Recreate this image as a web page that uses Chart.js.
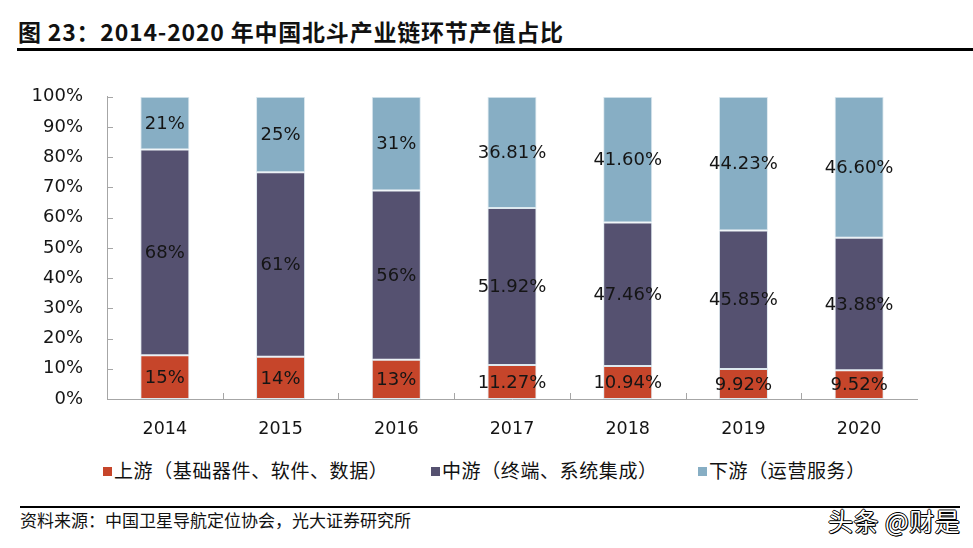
<!DOCTYPE html>
<html>
<head>
<meta charset="utf-8">
<script src="https://cdn.jsdelivr.net/npm/chart.js@4/dist/chart.umd.min.js"></script>
<style>
  body { margin: 0; background: #fff; width: 973px; height: 548px; position: relative; overflow: hidden; font-family: "Noto Sans CJK SC", sans-serif; }
  #title { position: absolute; left: 18px; top: 12px; font-size: 23px; font-weight: bold; line-height: 38px; color: #111; letter-spacing: 0.8px; }
  #titleLine { position: absolute; left: 17px; top: 48px; width: 956px; height: 3px; background: #000; }
  #chartBox { position: absolute; left: 0; top: 70px; width: 973px; height: 369px; }
  .leg { position: absolute; top: 458px; font-size: 19px; line-height: 24px; color: #111; letter-spacing: 0.6px; white-space: nowrap; }
  .leg i { display: inline-block; width: 9px; height: 9px; margin-right: 2px; vertical-align: 2px; }
  #footLine { position: absolute; left: 20px; top: 506px; width: 940px; height: 2px; background: #000; }
  #source { position: absolute; left: 20px; top: 508px; font-size: 17px; line-height: 24px; color: #111; }
  #mark { position: absolute; left: 828px; top: 505px; font-size: 25px; line-height: 30px; color: #fff; letter-spacing: 0.5px;
          text-shadow: 1px 1px 0 #000, -1px 0 0 #000, 0 -1px 0 #000, 1px 0 0 #000, 0 1px 0 #000; }
</style>
</head>
<body>
<div id="title">图 23：2014-2020 年中国北斗产业链环节产值占比</div>
<div id="titleLine"></div>
<div id="chartBox"><canvas id="chart"></canvas></div>
<div class="leg" style="left:103px"><i style="background:#c6452a"></i>上游（基础器件、软件、数据）</div>
<div class="leg" style="left:431px"><i style="background:#555170"></i>中游（终端、系统集成）</div>
<div class="leg" style="left:698px"><i style="background:#87aec4"></i>下游（运营服务）</div>
<div id="footLine"></div>
<div id="source">资料来源：中国卫星导航定位协会，光大证券研究所</div>
<div id="mark">头条 @财是</div>
<script>
const years = ['2014', '2015', '2016', '2017', '2018', '2019', '2020'];
// bar heights as drawn (percent of the column)
const upstream = [14.5, 14, 13, 11.27, 10.94, 9.92, 9.52];
const midstream = [68.1, 61, 56, 51.92, 47.46, 45.85, 43.88];
const downstream = [17.4, 25, 31, 36.81, 41.60, 44.23, 46.60];
// label texts printed on the bars
const upstreamLabels = ['15%', '14%', '13%', '11.27%', '10.94%', '9.92%', '9.52%'];
const midstreamLabels = ['68%', '61%', '56%', '51.92%', '47.46%', '45.85%', '43.88%'];
const downstreamLabels = ['21%', '25%', '31%', '36.81%', '41.60%', '44.23%', '46.60%'];
const yTicks = [0, 10, 20, 30, 40, 50, 60, 70, 80, 90, 100];

const segLabels = {
  id: 'segLabels',
  afterDatasetsDraw(chart) {
    const ctx = chart.ctx;
    const texts = [upstreamLabels, midstreamLabels, downstreamLabels];
    ctx.save();
    ctx.font = '18px "DejaVu Sans"';
    ctx.fillStyle = '#151515';
    ctx.textAlign = 'center';
    ctx.textBaseline = 'middle';
    chart.data.datasets.forEach((ds, i) => {
      chart.getDatasetMeta(i).data.forEach((bar, j) => {
        ctx.fillText(texts[i][j], bar.x, (bar.y + bar.base) / 2 + 1);
      });
    });
    ctx.restore();
  }
};

const insideTicks = {
  id: 'insideTicks',
  afterDraw(chart) {
    const { ctx, chartArea } = chart;
    const x = chart.scales.x, y = chart.scales.y;
    ctx.save();
    ctx.strokeStyle = '#a6a6a6';
    ctx.lineWidth = 1;
    ctx.beginPath();
    yTicks.forEach(v => {
      const py = Math.round(y.getPixelForValue(v)) + 0.5;
      ctx.moveTo(chartArea.left, py);
      ctx.lineTo(chartArea.left + 6, py);
    });
    for (let i = 1; i < years.length; i++) {
      const px = Math.round(x.getPixelForValue(i - 0.5)) + 0.5;
      ctx.moveTo(px, chartArea.bottom);
      ctx.lineTo(px, chartArea.bottom - 6);
    }
    ctx.stroke();
    ctx.restore();
  }
};

new Chart(document.getElementById('chart'), {
  type: 'bar',
  data: {
    labels: years,
    datasets: [
      { label: '上游（基础器件、软件、数据）', data: upstream, backgroundColor: '#c6452a' },
      { label: '中游（终端、系统集成）', data: midstream, backgroundColor: '#555170' },
      { label: '下游（运营服务）', data: downstream, backgroundColor: '#87aec4' }
    ]
  },
  options: {
    responsive: true,
    maintainAspectRatio: false,
    animation: false,
    layout: { padding: { top: 10, right: 56, left: 0, bottom: 0 } },
    datasets: {
      bar: { categoryPercentage: 1, barPercentage: 0.424, borderWidth: 1, borderColor: '#dde9ef', borderSkipped: false }
    },
    plugins: { legend: { display: false }, tooltip: { enabled: false } },
    scales: {
      x: {
        stacked: true,
        grid: { display: false },
        border: { display: true, color: '#a6a6a6', width: 1 },
        ticks: { color: '#151515', font: { family: 'DejaVu Sans', size: 17.5 }, padding: 12 },
        afterFit(scale) { scale.height = 40; }
      },
      y: {
        stacked: true,
        min: 0,
        max: 100,
        grid: { display: false },
        border: { display: true, color: '#a6a6a6', width: 1 },
        ticks: {
          stepSize: 10,
          color: '#151515',
          font: { family: 'DejaVu Sans', size: 18 },
          padding: 16,
          callback: v => v + '%'
        },
        afterFit(scale) { scale.width = 107; }
      }
    }
  },
  plugins: [segLabels, insideTicks]
});
</script>
</body>
</html>
